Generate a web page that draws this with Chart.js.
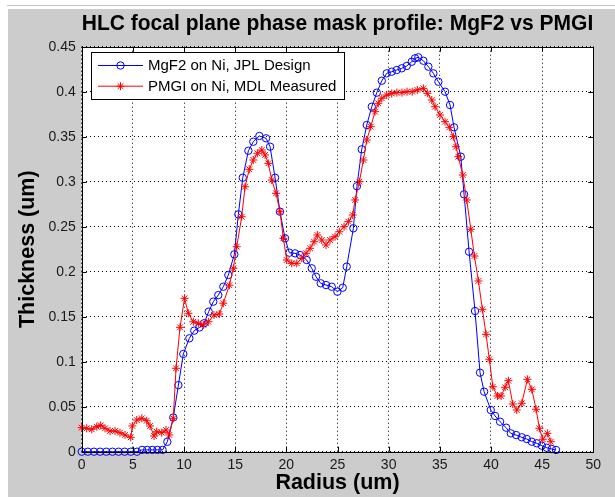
<!DOCTYPE html>
<html><head><meta charset="utf-8">
<script src="https://cdn.jsdelivr.net/npm/chart.js@4/dist/chart.umd.min.js"></script>
<style>html,body{margin:0;padding:0;background:#fff;}canvas{display:block;}</style>
</head><body>
<canvas id="c" width="615" height="497"></canvas>
<script>
const titleText = 'HLC focal plane phase mask profile: MgF2 vs PMGI';
const xLabel = 'Radius (um)';
const yLabel = 'Thickness (um)';
const seriesNames = ['MgF2 on Ni, JPL Design', 'PMGI on Ni, MDL Measured'];
const xTicks = [0, 5, 10, 15, 20, 25, 30, 35, 40, 45, 50];
const yTicks = [0, 0.05, 0.1, 0.15, 0.2, 0.25, 0.3, 0.35, 0.4, 0.45];

const mgf2Radius = [0, 0.6, 1.2, 1.8, 2.4, 3.0, 3.6, 4.2, 4.8, 5.4, 5.9, 6.4, 6.9, 7.4, 7.9,
  8.37, 8.95, 9.45, 9.93, 10.52, 11.0, 11.5, 11.96, 12.41, 12.86,
  13.35, 13.84, 14.33, 14.92, 15.31, 15.74, 16.29, 16.77, 17.36, 18.02,
  18.41, 18.9, 19.38, 19.87, 20.29, 20.85, 21.34, 21.99, 22.48, 22.9,
  23.36, 23.88, 24.44, 24.99, 25.51, 25.9, 26.55, 26.9, 27.37, 27.86,
  28.35, 28.84, 29.33, 29.81, 30.3, 30.79, 31.28, 31.77, 32.26, 32.58,
  32.9, 33.39, 33.88, 34.37, 34.86, 35.51, 36.0, 36.39, 37.05, 37.37,
  37.86, 38.44, 38.93, 39.33, 39.98, 40.4, 40.89, 41.48, 41.94, 42.46,
  43.01, 43.5, 43.99, 44.48, 44.97, 45.45, 45.94, 46.36];
const mgf2Thickness = [0, 0, 0, 0, 0, 0, 0, 0, 0, 0, 0.002, 0.002, 0.002, 0.002, 0.002,
  0.011, 0.038, 0.074, 0.1086, 0.126, 0.1345, 0.138, 0.1427, 0.1556, 0.1667,
  0.174, 0.1833, 0.1963, 0.2193, 0.2637, 0.3044, 0.3344, 0.3444, 0.3508, 0.3482,
  0.3389, 0.3044, 0.2667, 0.2371, 0.2211, 0.2204, 0.2186, 0.213, 0.2038, 0.1944,
  0.1871, 0.1852, 0.1833, 0.1778, 0.1822, 0.2056, 0.2482, 0.295, 0.336, 0.363,
  0.3833, 0.3989, 0.4122, 0.4204, 0.4222, 0.4241, 0.426, 0.4286, 0.4333, 0.4371,
  0.4382, 0.4344, 0.4278, 0.4204, 0.4111, 0.4, 0.3852, 0.3604, 0.3278, 0.286,
  0.2222, 0.1563, 0.0878, 0.0667, 0.0463, 0.0397, 0.0333, 0.0267, 0.0204, 0.0185,
  0.016, 0.0141, 0.0111, 0.0093, 0.0067, 0.0044, 0.003, 0.0019];

const pmgiRadius = [0, 0.49, 0.98, 1.47, 1.86, 2.28, 2.77, 3.26, 3.74, 4.23,
  4.79, 4.95, 5.38, 5.87, 6.35, 6.68, 7.07, 7.33, 7.82, 8.24,
  8.56, 8.95, 9.22, 9.61, 10.05, 10.42, 10.91, 11.4, 11.89, 12.38,
  12.93, 13.45, 13.84, 14.43, 14.82, 15.15, 15.64, 15.96, 16.38, 16.77,
  17.17, 17.6, 17.92, 18.24, 18.57, 18.99, 19.38, 19.71, 20.04, 20.53,
  21.02, 21.51, 21.93, 22.32, 22.71, 23.03, 23.46, 23.88, 24.27, 24.76,
  25.18, 25.64, 26.06, 26.49, 26.72, 27.14, 27.53, 27.86, 28.25, 28.67,
  28.99, 29.33, 29.81, 30.3, 30.8, 31.3, 31.8, 32.3, 32.8, 33.39,
  33.78, 34.21, 34.54, 35.02, 35.51, 35.93, 36.32, 36.59, 36.81, 37.24,
  37.63, 38.03, 38.38, 38.77, 39.16, 39.52, 39.84, 40.18, 40.63, 40.99,
  41.38, 41.7, 42.13, 42.52, 43.01, 43.56, 43.99, 44.41, 44.73, 45.06,
  45.51, 45.85];
const pmgiThickness = [0.0267, 0.026, 0.0249, 0.0278, 0.0293, 0.026, 0.023, 0.023, 0.0211, 0.0186,
  0.016, 0.0286, 0.0352, 0.0371, 0.0344, 0.0286, 0.0174, 0.0222, 0.0211, 0.0241,
  0.0186, 0.0371, 0.0927, 0.1382, 0.1704, 0.1538, 0.1444, 0.1427, 0.1408, 0.1444,
  0.1519, 0.153, 0.165, 0.185, 0.2038, 0.2278, 0.2611, 0.2944, 0.3138, 0.3241,
  0.3316, 0.3352, 0.3297, 0.3204, 0.3019, 0.2871, 0.2667, 0.2371, 0.213, 0.2093,
  0.2093, 0.2149, 0.2204, 0.226, 0.2333, 0.2408, 0.2352, 0.2297, 0.2352, 0.2389,
  0.2444, 0.25, 0.2556, 0.263, 0.2797, 0.3, 0.3241, 0.3463, 0.3611, 0.3778,
  0.3871, 0.3927, 0.3963, 0.398, 0.399, 0.399, 0.4, 0.4, 0.402, 0.4037,
  0.3982, 0.3908, 0.3833, 0.3741, 0.3667, 0.3604, 0.35, 0.3389, 0.3278, 0.3074,
  0.2797, 0.2471, 0.2174, 0.1897, 0.1582, 0.1304, 0.1027, 0.0722, 0.0619, 0.0619,
  0.0716, 0.0789, 0.053, 0.0463, 0.0538, 0.0804, 0.0693, 0.0471, 0.026, 0.0138,
  0.0204, 0.0111];

const FONT = "'Liberation Sans', Arial, Helvetica, sans-serif";
const toPts = (xs, ys) => xs.map((x, i) => ({x: x, y: ys[i]}));

const backgroundPlugin = {
  id: 'matlabBg',
  beforeDraw(chart) {
    const ctx = chart.ctx, a = chart.chartArea;
    ctx.save();
    ctx.fillStyle = '#ffffff';
    ctx.fillRect(0, 0, chart.width, chart.height);
    ctx.fillStyle = '#cccccc';
    ctx.fillRect(8, 9, chart.width - 8, chart.height - 9);
    ctx.strokeStyle = '#c4c4c4';
    ctx.lineWidth = 1;
    ctx.beginPath(); ctx.moveTo(7, 5.5); ctx.lineTo(chart.width, 5.5); ctx.stroke();
    ctx.fillStyle = '#ffffff';
    ctx.fillRect(a.left, a.top, a.right - a.left, a.bottom - a.top);
    ctx.restore();
  }
};

const framePlugin = {
  id: 'matlabFrame',
  afterDatasetsDraw(chart) {
    const ctx = chart.ctx, a = chart.chartArea;
    const xs = chart.scales.x, ys = chart.scales.y;
    const L = 5;
    ctx.save();
    ctx.strokeStyle = '#000';
    ctx.lineWidth = 1;
    ctx.beginPath();
    xTicks.forEach(v => {
      const px = Math.round(xs.getPixelForValue(v)) + 0.5;
      ctx.moveTo(px, a.bottom); ctx.lineTo(px, a.bottom - L);
      ctx.moveTo(px, a.top); ctx.lineTo(px, a.top + L);
    });
    yTicks.forEach(v => {
      const py = Math.round(ys.getPixelForValue(v)) + 0.5;
      ctx.moveTo(a.left, py); ctx.lineTo(a.left + L, py);
      ctx.moveTo(a.right, py); ctx.lineTo(a.right - L, py);
    });
    ctx.stroke();
    ctx.strokeRect(Math.round(a.left) + 0.5, Math.round(a.top) + 0.5,
      Math.round(a.right) - Math.round(a.left), Math.round(a.bottom) - Math.round(a.top));
    ctx.restore();
  }
};

const legendPlugin = {
  id: 'matlabLegend',
  afterDraw(chart) {
    const ctx = chart.ctx;
    const bx = 91.5, by = 52.5, bw = 253, bh = 47;
    ctx.save();
    ctx.fillStyle = '#fff';
    ctx.fillRect(bx, by, bw, bh);
    ctx.strokeStyle = '#000';
    ctx.lineWidth = 1;
    ctx.strokeRect(bx, by, bw, bh);
    chart.data.datasets.forEach((ds, i) => {
      const y = 65.5 + i * 20.7;
      ctx.strokeStyle = ds.borderColor;
      ctx.lineWidth = 1;
      ctx.beginPath(); ctx.moveTo(98, y); ctx.lineTo(143, y); ctx.stroke();
      ctx.fillStyle = 'rgba(0,0,0,0)';
      ctx.strokeStyle = ds.pointBorderColor;
      Chart.helpers.drawPoint(ctx, {pointStyle: ds.pointStyle, radius: ds.pointRadius, borderWidth: ds.pointBorderWidth, rotation: 0}, 120.5, y);
      ctx.fillStyle = '#000';
      ctx.font = '15px ' + FONT;
      ctx.textBaseline = 'middle';
      ctx.textAlign = 'left';
      ctx.fillText(ds.label, 148, y + 0.5);
    });
    ctx.restore();
  }
};

const tickFmt = v => String(Number(v.toFixed(2)));

new Chart(document.getElementById('c'), {
  type: 'line',
  data: {
    datasets: [
      {
        label: seriesNames[0],
        data: toPts(mgf2Radius, mgf2Thickness),
        borderColor: '#0000ff', borderWidth: 1,
        pointStyle: 'circle', pointRadius: 3.7, pointBorderWidth: 1,
        pointBorderColor: '#0000ff', pointBackgroundColor: 'rgba(0,0,0,0)',
        tension: 0, clip: false, order: 1
      },
      {
        label: seriesNames[1],
        data: toPts(pmgiRadius, pmgiThickness),
        borderColor: '#ff0000', borderWidth: 1,
        pointStyle: 'star', pointRadius: 4, pointBorderWidth: 1,
        pointBorderColor: '#ff0000', pointBackgroundColor: 'rgba(0,0,0,0)',
        tension: 0, clip: false, order: 0
      }
    ]
  },
  options: {
    responsive: false,
    animation: false,
    devicePixelRatio: 1,
    layout: {padding: {left: 0, right: 21.7, top: 0, bottom: 0}},
    plugins: {
      legend: {display: false},
      tooltip: {enabled: false},
      title: {
        display: true, text: titleText, fullSize: false, color: '#000',
        font: {family: FONT, size: 22, weight: 'bold'},
        padding: {top: 10.8, bottom: 9.5}
      }
    },
    scales: {
      x: {
        type: 'linear', min: 0, max: 50,
        afterBuildTicks: s => { s.ticks = xTicks.map(v => ({value: v})); },
        afterFit: s => { s.height = 45.3; },
        ticks: {font: {family: FONT, size: 14}, color: '#1a1a1a', padding: 5, maxRotation: 0, autoSkip: false, callback: tickFmt},
        grid: {color: '#000', lineWidth: 1, drawTicks: false},
        border: {display: false, dash: [1, 3]},
        title: {display: true, text: xLabel, color: '#000', font: {family: FONT, size: 21.5, weight: 'bold'}, padding: {top: 0, bottom: 1}}
      },
      y: {
        type: 'linear', min: 0, max: 0.45,
        afterBuildTicks: s => { s.ticks = yTicks.map(v => ({value: v})); },
        afterFit: s => { s.width = 81.7; },
        ticks: {font: {family: FONT, size: 14}, color: '#1a1a1a', padding: 6, autoSkip: false, callback: tickFmt},
        grid: {color: '#000', lineWidth: 1, drawTicks: false},
        border: {display: false, dash: [1, 3]},
        title: {display: true, text: yLabel, color: '#000', font: {family: FONT, size: 21.5, weight: 'bold'}, padding: {top: 15, bottom: 0}}
      }
    }
  },
  plugins: [backgroundPlugin, framePlugin, legendPlugin]
});
</script>
</body></html>
